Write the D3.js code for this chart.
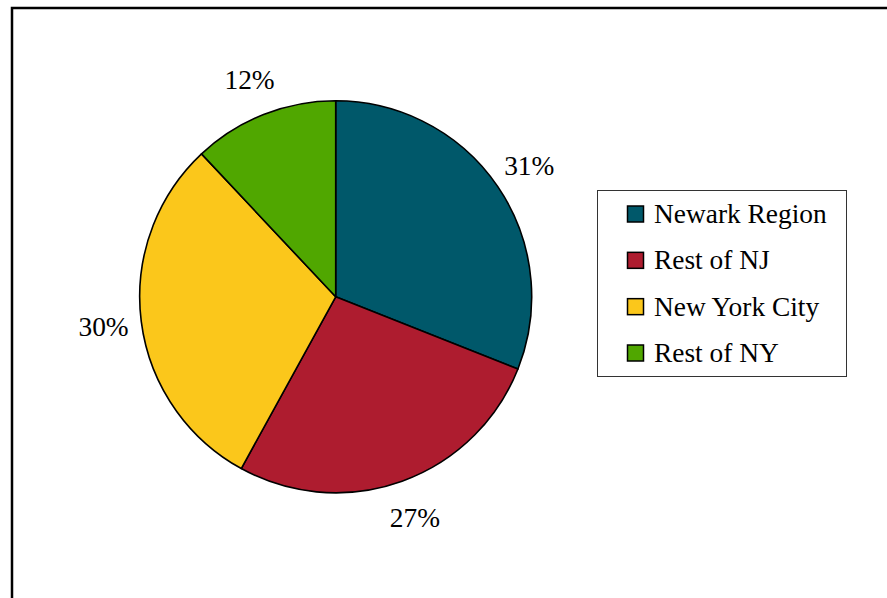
<!DOCTYPE html>
<html>
<head>
<meta charset="utf-8">
<script src="https://cdn.jsdelivr.net/npm/d3@7"></script>
<style>
  html, body { margin: 0; padding: 0; background: #fff; }
  svg { display: block; }
</style>
</head>
<body>
<script>
// Share of total by region
const categories = ["Newark Region", "Rest of NJ", "New York City", "Rest of NY"];
const values = [31, 27, 30, 12];
const colors = ["#00586a", "#ae1c2f", "#fbc71b", "#50a700"];

const W = 887, H = 598;
const serif = "Liberation Serif";
const fontSize = 27.4;
const svg = d3.select("body").append("svg").attr("width", W).attr("height", H);

// outer chart frame (extends past the right and bottom edges)
svg.append("rect")
  .attr("x", 12).attr("y", 8)
  .attr("width", W + 20).attr("height", H + 20)
  .attr("fill", "#fff").attr("stroke", "#000").attr("stroke-width", 2.5);

const cx = 335.7, cy = 296.8, r = 196;

const pie = d3.pie().sort(null).value(d => d.value);
const arcs = pie(categories.map((c, i) => ({ name: c, value: values[i], color: colors[i] })));
const arc = d3.arc().innerRadius(0).outerRadius(r);
const labelArc = d3.arc().innerRadius(r + 38).outerRadius(r + 38);

const g = svg.append("g").attr("transform", `translate(${cx},${cy})`);

g.selectAll("path.slice")
  .data(arcs)
  .join("path")
  .attr("class", "slice")
  .attr("d", arc)
  .attr("fill", d => d.data.color)
  .attr("stroke", "#000")
  .attr("stroke-width", 1.6)
  .attr("stroke-linejoin", "round");

const total = d3.sum(values);
g.selectAll("text.pct")
  .data(arcs)
  .join("text")
  .attr("class", "pct")
  .attr("transform", d => {
    const [x, y] = labelArc.centroid(d);
    return `translate(${x},${y})`;
  })
  .attr("text-anchor", "middle")
  .attr("dy", "0.35em")
  .attr("font-family", serif)
  .attr("font-size", fontSize)
  .attr("fill", "#000")
  .text(d => Math.round(d.data.value / total * 100) + "%");

// legend
const legend = svg.append("g");
legend.append("rect")
  .attr("x", 597.5).attr("y", 190.5)
  .attr("width", 249).attr("height", 186)
  .attr("fill", "#fff").attr("stroke", "#333").attr("stroke-width", 1);

const rowY = d3.scalePoint().domain(categories).range([214, 353]);

const rows = legend.selectAll("g.row")
  .data(arcs)
  .join("g")
  .attr("class", "row")
  .attr("transform", d => `translate(0,${rowY(d.data.name)})`);

rows.append("rect")
  .attr("x", 627.5).attr("y", -8)
  .attr("width", 16).attr("height", 16)
  .attr("fill", d => d.data.color)
  .attr("stroke", "#000").attr("stroke-width", 1.5);

rows.append("text")
  .attr("x", 654).attr("y", 9)
  .attr("font-family", serif)
  .attr("font-size", fontSize)
  .attr("fill", "#000")
  .text(d => d.data.name);
</script>
</body>
</html>
